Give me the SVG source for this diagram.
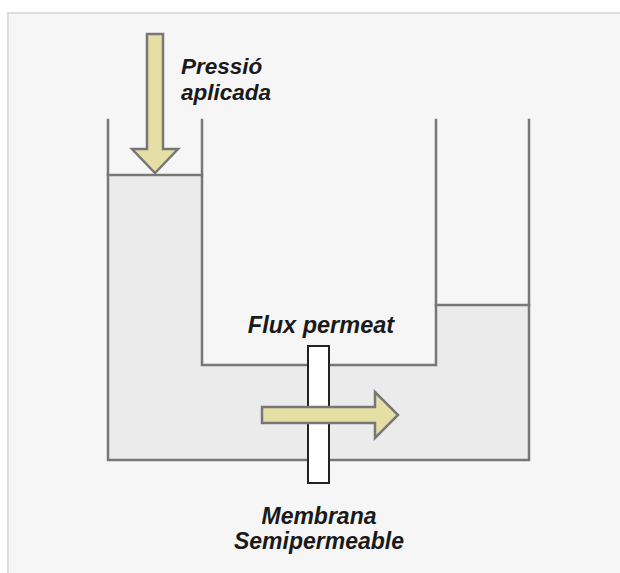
<svg xmlns="http://www.w3.org/2000/svg" width="620" height="573" viewBox="0 0 620 573">
<style>
.wall{fill:none;stroke:#777;stroke-width:2.5;stroke-linecap:square}
.arrow{fill:#e6dfa5;stroke:#777;stroke-width:2.5;stroke-linejoin:miter}
.lbl{font-family:"Liberation Sans",Arial,sans-serif;font-weight:bold;font-style:italic;fill:#1a1a1a}
</style>
<rect x="0" y="0" width="620" height="573" fill="#ffffff"/>
<rect x="8" y="13" width="630" height="580" fill="#f6f6f6" stroke="#dcdcdc" stroke-width="2"/>
<g id="water">
<polygon points="108,175 202,175 202,365 436,365 436,305 529,305 529,460 108,460" fill="#ebebeb"/>
</g>
<g id="tank">
<polyline class="wall" points="108,120 108,460 529,460 529,120"/>
<polyline class="wall" points="202,120 202,365 436,365 436,120"/>
<line class="wall" x1="108" y1="175" x2="202" y2="175"/>
<line class="wall" x1="436" y1="305" x2="529" y2="305"/>
</g>
<g id="membrane">
<rect x="308" y="346" width="21" height="137" fill="#ffffff" stroke="#222" stroke-width="2"/>
</g>
<g id="connectors">
<polygon id="pressure-arrow" class="arrow" points="147,34 163,34 163,149 178,149 155,173 132,149 147,149"/>
<polygon id="flux-arrow" class="arrow" points="262,407 375,407 375,392 398,415 375,438 375,423 262,423"/>
</g>
<g id="label-pressio">
<text class="lbl" font-size="22.5" x="181" y="74">Pressió</text>
<text class="lbl" font-size="22.5" x="181" y="100">aplicada</text>
</g>
<g id="label-flux">
<text class="lbl" font-size="23.5" x="321" y="333" text-anchor="middle">Flux permeat</text>
</g>
<g id="label-membrana">
<text class="lbl" font-size="23" x="319" y="524" text-anchor="middle">Membrana</text>
<text class="lbl" font-size="23" x="319" y="549" text-anchor="middle">Semipermeable</text>
</g>
</svg>
